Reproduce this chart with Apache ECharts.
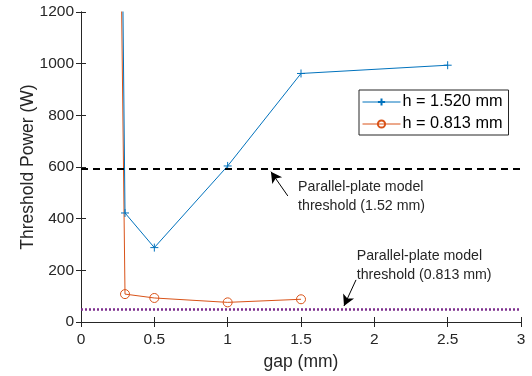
<!DOCTYPE html>
<html>
<head>
<meta charset="utf-8">
<script src="https://cdn.jsdelivr.net/npm/echarts@6/dist/echarts.min.js"></script>
<style>
  html, body { margin: 0; padding: 0; background: #fff; }
  #chart { width: 532px; height: 376px; }
</style>
</head>
<body>
<div id="chart"></div>
<script>
// gap (mm) and threshold power (W)
const gapThick = [0.25, 0.3, 0.5, 1, 1.5, 2.5];
const powerThick = [3250, 422, 288, 604, 962, 994];
const gapThin = [0.25, 0.3, 0.5, 1, 1.5];
const powerThin = [2500, 108, 93, 76, 88];

const plateThick = 592;
const plateThin = 50;

// annotation arrows [tail, tip] in data units
const arrowThick = [[1.41, 488], [1.295, 582]];
const arrowThin = [[1.875, 163], [1.793, 62]];
const noteThick = ["Parallel-plate model", "threshold (1.52 mm)"];
const noteThin = ["Parallel-plate model", "threshold (0.813 mm)"];

const xTicks = [0, 0.5, 1, 1.5, 2, 2.5, 3];
const yTicks = [0, 200, 400, 600, 800, 1000, 1200];

const axisColor = "#262626";
const font = "Liberation Sans, Arial, Helvetica, sans-serif";
const plusSymbol = "path://M-5,0L5,0M0,-5L0,5";

const chart = echarts.init(document.getElementById("chart"), null, { renderer: "canvas" });

const boxAxis = {
  axisLine: { show: true, lineStyle: { color: axisColor, width: 1 } },
  axisTick: { show: true, inside: true, length: 5, lineStyle: { color: axisColor } },
  splitLine: { show: false },
};

function arrowLine(pts) {
  return {
    type: "line",
    silent: true,
    data: [],
    markLine: {
      silent: true,
      animation: false,
      symbol: ["none", "arrow"],
      symbolSize: [9, 11],
      label: { show: false },
      lineStyle: { color: "#000", width: 1, type: "solid" },
      data: [[{ coord: pts[0] }, { coord: pts[1] }]],
    },
  };
}

chart.setOption({
  animation: false,
  textStyle: { fontFamily: font },
  grid: { left: 81, right: 11, top: 12, bottom: 54 },
  legend: {
    orient: "vertical",
    left: 359,
    top: 90,
    width: 151,
    padding: [4, 6, 3, 3],
    itemWidth: 38,
    itemHeight: 9,
    itemGap: 6,
    borderColor: axisColor,
    borderWidth: 1,
    backgroundColor: "#fff",
    lineStyle: { width: 1 },
    textStyle: { fontSize: 16.3, color: "#000", fontFamily: font, padding: [0, 0, 0, -3] },
    data: ["h = 1.520 mm", "h = 0.813 mm"],
  },
  xAxis: [
    {
      ...boxAxis,
      type: "value",
      min: xTicks[0],
      max: xTicks[xTicks.length - 1],
      interval: 0.5,
      name: "gap (mm)",
      nameLocation: "middle",
      nameGap: 31,
      nameMoveOverlap: false,
      nameTextStyle: { fontSize: 17.5, color: axisColor },
      axisLabel: { fontSize: 15.5, color: axisColor, margin: 10 },
    },
    {
      ...boxAxis,
      type: "value",
      position: "top",
      min: xTicks[0],
      max: xTicks[xTicks.length - 1],
      interval: 0.5,
      axisLabel: { show: false },
    },
  ],
  yAxis: [
    {
      ...boxAxis,
      type: "value",
      min: yTicks[0],
      max: yTicks[yTicks.length - 1],
      interval: 200,
      name: "Threshold Power (W)",
      nameLocation: "middle",
      nameGap: 44,
      nameMoveOverlap: false,
      nameTextStyle: { fontSize: 17.5, color: axisColor },
      axisLabel: { fontSize: 15.5, color: axisColor, margin: 7, formatter: (v) => String(v) },
    },
    {
      ...boxAxis,
      type: "value",
      position: "right",
      min: yTicks[0],
      max: yTicks[yTicks.length - 1],
      interval: 200,
      axisLabel: { show: false },
    },
  ],
  series: [
    {
      name: "h = 1.520 mm",
      type: "line",
      clip: true,
      data: gapThick.map((g, i) => [g, powerThick[i]]),
      symbol: plusSymbol,
      symbolSize: 8,
      lineStyle: { color: "#0072BD", width: 1 },
      itemStyle: { color: "#0072BD", borderColor: "#0072BD", borderWidth: 1 },
      markLine: {
        silent: true,
        symbol: "none",
        label: { show: false },
        lineStyle: { color: "#000", width: 2, type: [7, 5] },
        data: [{ yAxis: plateThick }],
      },
      z: 3,
    },
    {
      name: "h = 0.813 mm",
      type: "line",
      clip: true,
      data: gapThin.map((g, i) => [g, powerThin[i]]),
      symbol: "circle",
      symbolSize: 9,
      showAllSymbol: true,
      lineStyle: { color: "#D95319", width: 1 },
      itemStyle: { color: "transparent", borderColor: "#D95319", borderWidth: 1 },
      markLine: {
        silent: true,
        symbol: "none",
        label: { show: false },
        lineStyle: { color: "#7E2F8E", width: 2.5, type: [2, 2] },
        data: [{ yAxis: plateThin }],
      },
      z: 2,
    },
    arrowLine(arrowThick),
    arrowLine(arrowThin),
  ],
});

// annotation text, anchored in data units
function noteGraphic(lines, at) {
  const p = chart.convertToPixel({ gridIndex: 0 }, at);
  return {
    type: "text",
    left: p[0],
    top: p[1],
    silent: true,
    style: {
      text: lines.join("\n"),
      fontSize: 14.2,
      lineHeight: 19,
      fill: axisColor,
      fontFamily: font,
    },
  };
}

chart.setOption({
  graphic: [
    noteGraphic(noteThick, [1.48, 560]),
    noteGraphic(noteThin, [1.88, 290]),
  ],
});
</script>
</body>
</html>
